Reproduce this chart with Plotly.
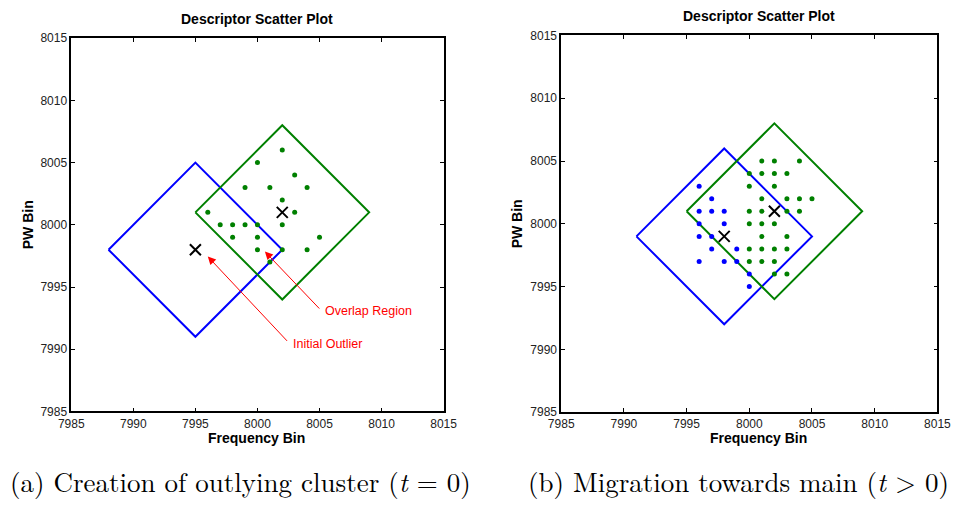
import plotly.graph_objects as go

# ---------------- data ----------------
# Panel (a): creation of outlying cluster
a_green_x = [8002, 8000, 8003, 7999, 8001, 8004, 8002, 7996, 8003, 7997, 7998, 7999, 8000, 8002,
             7998, 8000, 8005, 8000, 8002, 8004, 8001]
a_green_y = [8006, 8005, 8004, 8003, 8003, 8003, 8002, 8001, 8001, 8000, 8000, 8000, 8000, 8000,
             7999, 7999, 7999, 7998, 7998, 7998, 7997]
a_centers_x = [8002, 7995]
a_centers_y = [8001, 7998]
a_blue_box_x = [7988, 7995, 8002, 7995, 7988]
a_blue_box_y = [7998, 8005, 7998, 7991, 7998]
a_green_box_x = [7995, 8002, 8009, 8002, 7995]
a_green_box_y = [8001, 8008, 8001, 7994, 8001]

# annotation arrows (head x, head y, tail x, tail y)
overlap_arrow = [8000.6, 7997.85, 8005.1, 7993.15]
outlier_arrow = [7996.0, 7997.45, 8002.5, 7990.55]

# Panel (b): migration towards main
b_green_x = [8001, 8002, 8004, 8000, 8001, 8002, 8003, 8000, 8002, 8001, 8003, 8004, 8005,
             8000, 8001, 8003, 8004, 8000, 8001, 8002, 8001, 8003, 8000, 8001, 8002, 8003,
             8000, 8001, 8002, 8002, 8003]
b_green_y = [8005, 8005, 8005, 8004, 8004, 8004, 8004, 8003, 8003, 8002, 8002, 8002, 8002,
             8001, 8001, 8001, 8001, 8000, 8000, 8000, 7999, 7999, 7998, 7998, 7998, 7998,
             7997, 7997, 7997, 7996, 7996]
b_blue_x = [7996, 7997, 7996, 7997, 7998, 7996, 7998, 7996, 7997, 7997, 7999, 7996, 7998, 7999,
            8000, 8000]
b_blue_y = [8003, 8002, 8001, 8001, 8001, 8000, 8000, 7999, 7999, 7998, 7998, 7997, 7997, 7997,
            7996, 7995]
b_centers_x = [8002, 7998]
b_centers_y = [8001, 7999]
b_blue_box_x = [7991, 7998, 8005, 7998, 7991]
b_blue_box_y = [7999, 8006, 7999, 7992, 7999]
b_green_box_x = [7995, 8002, 8009, 8002, 7995]
b_green_box_y = [8001, 8008, 8001, 7994, 8001]

ticks = [7985, 7990, 7995, 8000, 8005, 8010, 8015]

GREEN = "rgb(0,128,0)"
BLUE = "rgb(0,0,255)"

fig = go.Figure()

def add_panel(xa, ya, bx, by, gx, gy, dots_g, dots_b, centers):
    fig.add_trace(go.Scatter(x=bx, y=by, mode="lines", line=dict(color=BLUE, width=2),
                             xaxis=xa, yaxis=ya, showlegend=False, hoverinfo="skip"))
    fig.add_trace(go.Scatter(x=gx, y=gy, mode="lines", line=dict(color=GREEN, width=2),
                             xaxis=xa, yaxis=ya, showlegend=False, hoverinfo="skip"))
    if dots_b is not None:
        fig.add_trace(go.Scatter(x=dots_b[0], y=dots_b[1], mode="markers",
                                 marker=dict(color=BLUE, size=5), xaxis=xa, yaxis=ya, showlegend=False))
    fig.add_trace(go.Scatter(x=dots_g[0], y=dots_g[1], mode="markers",
                             marker=dict(color=GREEN, size=5), xaxis=xa, yaxis=ya, showlegend=False))
    fig.add_trace(go.Scatter(x=centers[0], y=centers[1], mode="markers",
                             marker=dict(symbol="x-thin", size=11, line=dict(color="black", width=2)),
                             xaxis=xa, yaxis=ya, showlegend=False))

add_panel("x", "y", a_blue_box_x, a_blue_box_y, a_green_box_x, a_green_box_y,
          (a_green_x, a_green_y), None, (a_centers_x, a_centers_y))
add_panel("x2", "y2", b_blue_box_x, b_blue_box_y, b_green_box_x, b_green_box_y,
          (b_green_x, b_green_y), (b_blue_x, b_blue_y), (b_centers_x, b_centers_y))

bold = dict(family="Liberation Sans, Arial", size=14, color="black")

axis_common = dict(range=[7985, 8015], tickvals=ticks, ticktext=[str(t) for t in ticks],
                   showgrid=False, zeroline=False, showline=True, linecolor="black", linewidth=1.5,
                   mirror="ticks", ticks="inside", ticklen=4, tickcolor="black",
                   tickfont=dict(family="Liberation Sans, Arial", size=12, color="#222"))

fig.update_layout(
    width=967, height=506, margin=dict(l=0, r=0, t=0, b=0),
    paper_bgcolor="white", plot_bgcolor="white",
    xaxis=dict(domain=[0.0620, 0.4581], anchor="y", **axis_common),
    yaxis=dict(domain=[0.1779, 0.9368], anchor="x",
               title=dict(text="<b>PW Bin</b>", font=bold, standoff=4), **axis_common),
    xaxis2=dict(domain=[0.5832, 0.9834], anchor="y2", **axis_common),
    yaxis2=dict(domain=[0.1765, 0.9421], anchor="x2",
                title=dict(text="<b>PW Bin</b>", font=bold, standoff=4), **axis_common),
)

# arrows
for arr, label in [(overlap_arrow, "Overlap Region"), (outlier_arrow, "Initial Outlier")]:
    fig.add_annotation(x=arr[0], y=arr[1], ax=arr[2], ay=arr[3], xref="x", yref="y",
                       axref="x", ayref="y", text="", showarrow=True, arrowhead=2,
                       arrowsize=1.6, arrowwidth=1, arrowcolor="red")
    fig.add_annotation(x=arr[2] + 0.2, y=arr[3] - 0.1, xref="x", yref="y", text=label,
                       showarrow=False, xanchor="left", yanchor="middle",
                       font=dict(family="Liberation Sans, Arial", size=12.5, color="red"))

serif = dict(family="Latin Modern Roman, CMU Serif, DejaVu Serif, Liberation Serif", size=27, color="black")

for cx, ty, capx, caption in [(251, 12, 234, "(a) Creation of outlying cluster (<i>t</i> = 0)"),
                              (767, 9, 746, "(b) Migration towards main (<i>t</i> > 0)")]:
    fig.add_annotation(x=cx / 967, y=1 - ty / 506, xref="paper", yref="paper",
                       text="<b>Descriptor Scatter Plot</b>", showarrow=False,
                       xanchor="center", yanchor="middle", font=bold)
    fig.add_annotation(x=cx / 967, y=1 - 443 / 506, xref="paper", yref="paper",
                       text="<b>Frequency Bin</b>", showarrow=False,
                       xanchor="center", yanchor="middle", font=bold)
    fig.add_annotation(x=capx / 967, y=1 - 488 / 506, xref="paper", yref="paper",
                       text=caption, showarrow=False, xanchor="center", yanchor="middle",
                       font=serif)

fig.write_html("out.html")
